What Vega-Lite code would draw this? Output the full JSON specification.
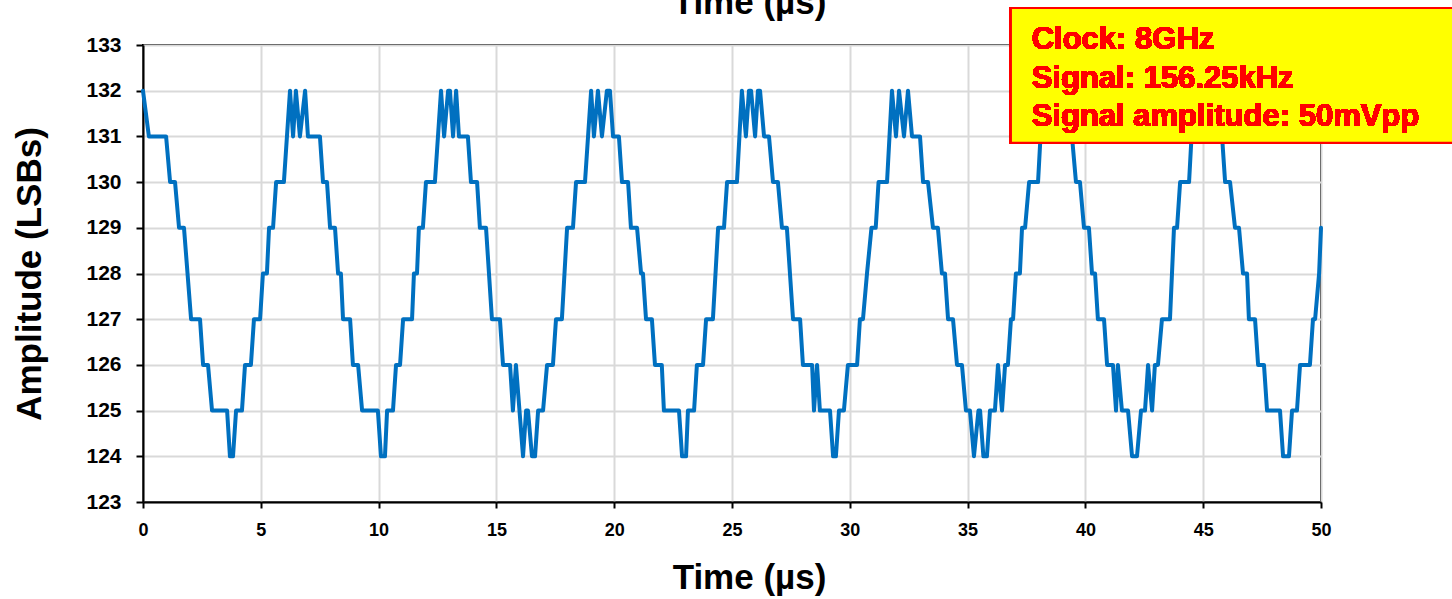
{
  "$schema": "https://vega.github.io/schema/vega-lite/v6.json",
  "autosize": {"type": "none"},
  "width": 1178,
  "height": 457,
  "padding": {"top": 45, "left": 143, "right": 131, "bottom": 97},
  "background": "white",
  "config": {
    "view": {"stroke": "black", "strokeWidth": 2},
    "font": "Liberation Sans",
    "axis": {"labelFont": "Liberation Sans", "titleFont": "Liberation Sans", "labelColor": "black", "titleColor": "black", "labelFontWeight": "bold", "titleFontWeight": "bold", "domainColor": "black", "domainWidth": 2, "tickColor": "black", "tickWidth": 2, "gridColor": "#d9d9d9", "gridWidth": 2}
  },
  "resolve": {"axis": {"x": "independent"}},
  "data": {"values": [
    {"t":0.00,"v":132},{"t":0.25,"v":131},{"t":0.98,"v":131},{"t":1.15,"v":130},{"t":1.36,"v":130},{"t":1.53,"v":129},{"t":1.74,"v":129},{"t":2.04,"v":127},{"t":2.42,"v":127},{"t":2.55,"v":126},{"t":2.76,"v":126},{"t":2.93,"v":125},{"t":3.57,"v":125},{"t":3.69,"v":124},{"t":3.82,"v":124},{"t":3.95,"v":125},{"t":4.20,"v":125},{"t":4.33,"v":126},{"t":4.58,"v":126},{"t":4.71,"v":127},{"t":4.97,"v":127},{"t":5.09,"v":128},{"t":5.26,"v":128},{"t":5.35,"v":129},{"t":5.52,"v":129},{"t":5.65,"v":130},{"t":5.98,"v":130},{"t":6.24,"v":132},{"t":6.37,"v":131},{"t":6.49,"v":132},{"t":6.66,"v":131},{"t":6.88,"v":132},{"t":7.00,"v":131},{"t":7.51,"v":131},{"t":7.64,"v":130},{"t":7.81,"v":130},{"t":7.94,"v":129},{"t":8.15,"v":129},{"t":8.28,"v":128},{"t":8.40,"v":128},{"t":8.49,"v":127},{"t":8.79,"v":127},{"t":8.91,"v":126},{"t":9.13,"v":126},{"t":9.30,"v":125},{"t":9.97,"v":125},{"t":10.10,"v":124},{"t":10.27,"v":124},{"t":10.36,"v":125},{"t":10.61,"v":125},{"t":10.74,"v":126},{"t":10.91,"v":126},{"t":11.04,"v":127},{"t":11.42,"v":127},{"t":11.50,"v":128},{"t":11.63,"v":128},{"t":11.71,"v":129},{"t":11.88,"v":129},{"t":12.01,"v":130},{"t":12.39,"v":130},{"t":12.65,"v":132},{"t":12.78,"v":131},{"t":12.95,"v":132},{"t":13.03,"v":132},{"t":13.16,"v":131},{"t":13.29,"v":132},{"t":13.41,"v":131},{"t":13.79,"v":131},{"t":13.92,"v":130},{"t":14.18,"v":130},{"t":14.30,"v":129},{"t":14.56,"v":129},{"t":14.81,"v":127},{"t":15.15,"v":127},{"t":15.28,"v":126},{"t":15.58,"v":126},{"t":15.70,"v":125},{"t":15.83,"v":126},{"t":16.13,"v":124},{"t":16.26,"v":125},{"t":16.34,"v":125},{"t":16.51,"v":124},{"t":16.64,"v":124},{"t":16.77,"v":125},{"t":16.98,"v":125},{"t":17.15,"v":126},{"t":17.40,"v":126},{"t":17.53,"v":127},{"t":17.78,"v":127},{"t":18.00,"v":129},{"t":18.25,"v":129},{"t":18.38,"v":130},{"t":18.76,"v":130},{"t":19.02,"v":132},{"t":19.14,"v":131},{"t":19.31,"v":132},{"t":19.48,"v":131},{"t":19.69,"v":132},{"t":19.82,"v":132},{"t":19.95,"v":131},{"t":20.20,"v":131},{"t":20.33,"v":130},{"t":20.59,"v":130},{"t":20.71,"v":129},{"t":20.97,"v":129},{"t":21.14,"v":128},{"t":21.22,"v":128},{"t":21.35,"v":127},{"t":21.60,"v":127},{"t":21.73,"v":126},{"t":22.02,"v":126},{"t":22.11,"v":125},{"t":22.75,"v":125},{"t":22.88,"v":124},{"t":23.05,"v":124},{"t":23.13,"v":125},{"t":23.39,"v":125},{"t":23.51,"v":126},{"t":23.77,"v":126},{"t":23.90,"v":127},{"t":24.19,"v":127},{"t":24.41,"v":129},{"t":24.66,"v":129},{"t":24.79,"v":130},{"t":25.21,"v":130},{"t":25.42,"v":132},{"t":25.59,"v":131},{"t":25.72,"v":132},{"t":25.81,"v":132},{"t":25.98,"v":131},{"t":26.10,"v":132},{"t":26.19,"v":132},{"t":26.36,"v":131},{"t":26.57,"v":131},{"t":26.74,"v":130},{"t":26.95,"v":130},{"t":27.12,"v":129},{"t":27.33,"v":129},{"t":27.59,"v":127},{"t":27.89,"v":127},{"t":28.01,"v":126},{"t":28.40,"v":126},{"t":28.48,"v":125},{"t":28.61,"v":126},{"t":28.73,"v":125},{"t":29.16,"v":125},{"t":29.29,"v":124},{"t":29.41,"v":124},{"t":29.54,"v":125},{"t":29.75,"v":125},{"t":29.92,"v":126},{"t":30.31,"v":126},{"t":30.43,"v":127},{"t":30.56,"v":127},{"t":30.73,"v":128},{"t":30.92,"v":129},{"t":31.10,"v":129},{"t":31.22,"v":130},{"t":31.58,"v":130},{"t":31.79,"v":132},{"t":31.96,"v":131},{"t":32.09,"v":132},{"t":32.30,"v":131},{"t":32.47,"v":132},{"t":32.64,"v":131},{"t":32.98,"v":131},{"t":33.11,"v":130},{"t":33.32,"v":130},{"t":33.53,"v":129},{"t":33.74,"v":129},{"t":33.91,"v":128},{"t":34.04,"v":128},{"t":34.17,"v":127},{"t":34.38,"v":127},{"t":34.55,"v":126},{"t":34.76,"v":126},{"t":34.93,"v":125},{"t":35.10,"v":125},{"t":35.27,"v":124},{"t":35.46,"v":125},{"t":35.53,"v":125},{"t":35.67,"v":124},{"t":35.82,"v":124},{"t":35.95,"v":125},{"t":36.16,"v":125},{"t":36.29,"v":126},{"t":36.46,"v":125},{"t":36.59,"v":126},{"t":36.71,"v":126},{"t":36.84,"v":127},{"t":36.93,"v":127},{"t":37.05,"v":128},{"t":37.22,"v":128},{"t":37.31,"v":129},{"t":37.44,"v":129},{"t":37.61,"v":130},{"t":37.99,"v":130},{"t":38.20,"v":132},{"t":38.33,"v":131},{"t":38.50,"v":132},{"t":38.62,"v":131},{"t":38.79,"v":132},{"t":38.96,"v":131},{"t":39.43,"v":131},{"t":39.60,"v":130},{"t":39.77,"v":130},{"t":39.94,"v":129},{"t":40.15,"v":129},{"t":40.28,"v":128},{"t":40.41,"v":128},{"t":40.53,"v":127},{"t":40.79,"v":127},{"t":40.92,"v":126},{"t":41.17,"v":126},{"t":41.30,"v":125},{"t":41.38,"v":126},{"t":41.55,"v":125},{"t":41.81,"v":125},{"t":41.98,"v":124},{"t":42.19,"v":124},{"t":42.36,"v":125},{"t":42.53,"v":125},{"t":42.66,"v":126},{"t":42.83,"v":125},{"t":42.95,"v":126},{"t":43.08,"v":126},{"t":43.25,"v":127},{"t":43.59,"v":127},{"t":43.76,"v":129},{"t":43.89,"v":129},{"t":44.02,"v":130},{"t":44.40,"v":130},{"t":44.61,"v":132},{"t":44.74,"v":131},{"t":44.91,"v":132},{"t":45.08,"v":131},{"t":45.25,"v":132},{"t":45.42,"v":131},{"t":45.80,"v":131},{"t":45.93,"v":130},{"t":46.14,"v":130},{"t":46.35,"v":129},{"t":46.52,"v":129},{"t":46.69,"v":128},{"t":46.86,"v":128},{"t":46.94,"v":127},{"t":47.20,"v":127},{"t":47.33,"v":126},{"t":47.58,"v":126},{"t":47.71,"v":125},{"t":48.26,"v":125},{"t":48.39,"v":124},{"t":48.64,"v":124},{"t":48.77,"v":125},{"t":48.98,"v":125},{"t":49.11,"v":126},{"t":49.53,"v":126},{"t":49.66,"v":127},{"t":49.75,"v":127},{"t":49.92,"v":128},{"t":50.00,"v":129}
  ]},
  "layer": [
    {
      "mark": {"type": "line", "color": "#0070C0", "strokeWidth": 4, "strokeJoin": "round", "strokeCap": "round"},
      "encoding": {
        "x": {"field": "t", "type": "quantitative", "scale": {"domain": [0, 50], "nice": false, "zero": false},
              "axis": {"values": [0,5,10,15,20,25,30,35,40,45,50], "labelFontSize": 18, "labelFlush": false, "tickSize": 6, "labelPadding": 13, "title": "Time (µs)", "titleFontSize": 35, "titlePadding": 21, "titleX": 606, "titleAlign": "center"}},
        "y": {"field": "v", "type": "quantitative", "scale": {"domain": [123, 133], "nice": false, "zero": false},
              "axis": {"values": [123,124,125,126,127,128,129,130,131,132,133], "labelFontSize": 21, "labelFlush": false, "tickSize": 7, "labelPadding": 15, "title": "Amplitude (LSBs)", "titleFontSize": 35, "titlePadding": 38}}
      }
    },
    {
      "mark": {"type": "rect", "fill": "#FFFF00", "stroke": "#FF0000", "strokeWidth": 2},
      "encoding": {
        "x": {"datum": 36.84, "type": "quantitative",
              "axis": {"orient": "top", "labels": false, "ticks": false, "grid": false, "domain": false, "title": "Time (µs)", "titleFontSize": 35, "titleBaseline": "alphabetic", "titleY": -32, "titleX": 606, "titleAlign": "center"}},
        "x2": {"datum": 56.5},
        "y": {"datum": 133.81, "type": "quantitative"},
        "y2": {"datum": 130.86}
      }
    },
    {
      "mark": {"type": "text", "text": ["Clock: 8GHz", "Signal: 156.25kHz", "Signal amplitude: 50mVpp"], "font": "Liberation Sans", "fontSize": 31, "fontWeight": "bold", "color": "#FF0000", "align": "left", "baseline": "alphabetic", "lineHeight": 38.5},
      "encoding": {
        "x": {"datum": 37.72, "type": "quantitative", "axis": null},
        "y": {"datum": 132.91, "type": "quantitative"}
      }
    }
  ]
}
